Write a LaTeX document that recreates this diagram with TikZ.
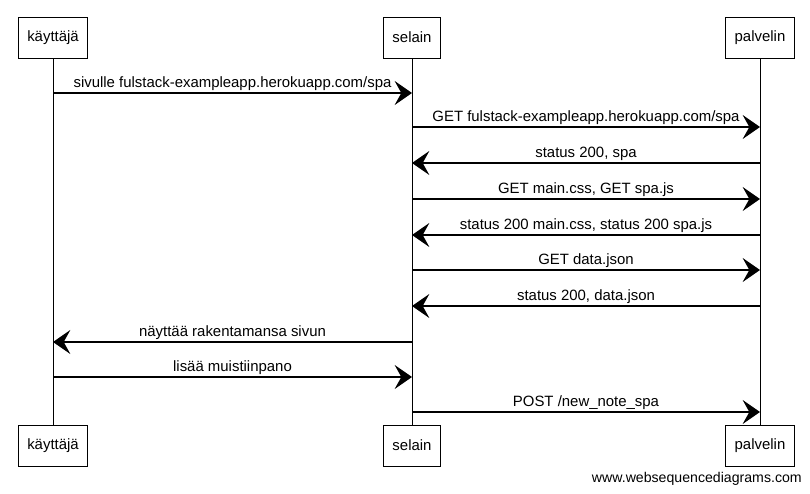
\documentclass[tikz,border=0pt]{standalone}
\usepackage{fontspec}
\setmainfont{Liberation Sans}
\usetikzlibrary{arrows.meta}

\tikzset{
  actor/.style={draw, line width=0.7pt, inner xsep=6.75pt, minimum height=30.75pt, font=\fontsize{11.2}{13}\selectfont},
  msg/.style={line width=0.9pt, -{Stealth[length=13pt,width=18pt,inset=5pt]}},
  msgtext/.style={above, inner sep=1.5pt, font=\fontsize{11.2}{13}\selectfont},
  lifeline/.style={line width=0.6pt}
}

\begin{document}
\begin{tikzpicture}[x=0.75pt,y=0.75pt,yscale=-1,xscale=1]
    \useasboundingbox (0,0) rectangle (810,493);
    % Actors top
    \node [actor] (kta) at (53,37.5) {käyttäjä};
    \node [actor] (sta) at (412,37.5) {selain};
    \node [actor] (pta) at (760,37.5) {palvelin};
    % Actors bottom
    \node [actor] (ktb) at (53,445.5) {käyttäjä};
    \node [actor] (stb) at (412,445.5) {selain};
    \node [actor] (ptb) at (760,445.5) {palvelin};
    % Lifelines
    \draw [lifeline] (kta) -- (ktb);
    \draw [lifeline] (sta) -- (stb);
    \draw [lifeline] (pta) -- (ptb);

    % Message points on the lifelines
    \foreach \y/\n in {93/1,127/2,163/3,199/4,235/5,270/6,306/7,342/8,377/9,412/10}{
      \coordinate (k\n) at (53,\y);
      \coordinate (s\n) at (412,\y);
      \coordinate (p\n) at (760,\y);
    }

    % Messages
    \draw [msg] (k1) -- node [msgtext] {sivulle fulstack-exampleapp.herokuapp.com/spa} (s1);
    \draw [msg] (s2) -- node [msgtext] {GET fulstack-exampleapp.herokuapp.com/spa} (p2);
    \draw [msg] (p3) -- node [msgtext] {status 200, spa} (s3);
    \draw [msg] (s4) -- node [msgtext] {GET main.css, GET spa.js} (p4);
    \draw [msg] (p5) -- node [msgtext] {status 200 main.css, status 200 spa.js} (s5);
    \draw [msg] (s6) -- node [msgtext] {GET data.json} (p6);
    \draw [msg] (p7) -- node [msgtext] {status 200, data.json} (s7);
    \draw [msg] (s8) -- node [msgtext] {näyttää rakentamansa sivun} (k8);
    \draw [msg] (k9) -- node [msgtext] {lisää muistiinpano} (s9);
    \draw [msg] (s10) -- node [msgtext] {POST /new\_note\_spa} (p10);

    % Text Node
    \node [anchor=east, inner sep=0pt, font=\fontsize{10.6}{12}\selectfont] (wsd) at (802,479) {www.websequencediagrams.com};
\end{tikzpicture}
\end{document}
